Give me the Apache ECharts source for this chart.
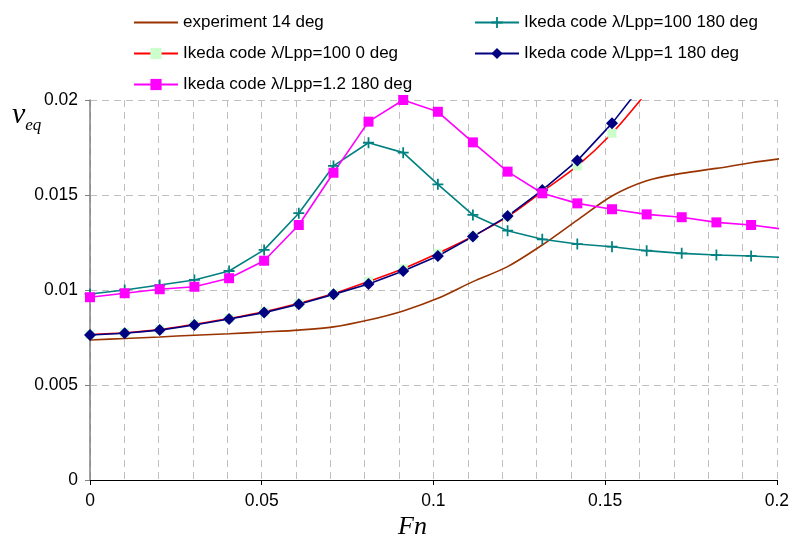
<!DOCTYPE html>
<html>
<head>
<meta charset="utf-8">
<script src="https://cdn.jsdelivr.net/npm/echarts@6/dist/echarts.min.js"></script>
<style>
  html, body { margin: 0; padding: 0; background: #ffffff; }
  #chart { width: 792px; height: 545px; }
</style>
</head>
<body>
<div id="chart"></div>
<script>
// Froude numbers at which the roll damping was evaluated
const fn = [0, 0.0101, 0.0203, 0.0304, 0.0405, 0.0507, 0.0608, 0.0709, 0.0811, 0.0912,
            0.1013, 0.1115, 0.1216, 0.1317, 0.1419, 0.1520, 0.1621, 0.1723, 0.1824, 0.1925, 0.2027];

// Equivalent linear roll damping coefficient
const experiment14 = [0.00737, 0.00745, 0.00753, 0.00762, 0.0077, 0.00779, 0.00789, 0.00806, 0.00842, 0.0089,
                      0.00956, 0.01044, 0.01123, 0.01237, 0.01368, 0.01495, 0.01575, 0.01614, 0.0164, 0.0167, 0.01695];
const ikeda100_180 = [0.00979, 0.0100, 0.01026, 0.01053, 0.0110, 0.01211, 0.01404, 0.01653, 0.01775, 0.01723,
                      0.01556, 0.01395, 0.01312, 0.01267, 0.01242, 0.01228, 0.01207, 0.01193, 0.01184, 0.01179, 0.01171];
const ikeda100_0 = [0.00765, 0.00775, 0.00792, 0.0082, 0.0085, 0.00885, 0.0093, 0.0098, 0.01045, 0.01112,
                    0.01193, 0.01283, 0.01386, 0.01518, 0.01653, 0.01825, 0.0204];
const ikeda1_180 = [0.00763, 0.00772, 0.00789, 0.00816, 0.00847, 0.00881, 0.00925, 0.00977, 0.01032, 0.0110,
                    0.01179, 0.01281, 0.01389, 0.01526, 0.01681, 0.01877, 0.0211];
const ikeda12_180 = [0.00962, 0.00983, 0.01004, 0.01017, 0.01062, 0.01154, 0.01342, 0.01617, 0.01886, 0.0200,
                     0.01938, 0.01777, 0.01623, 0.01509, 0.01456, 0.01425, 0.01398, 0.01383, 0.01356, 0.01342, 0.01318];

const xTicks = [0, 0.05, 0.1, 0.15, 0.2];
const yTicks = [0, 0.005, 0.01, 0.015, 0.02];

const names = [
  'experiment 14 deg',
  'Ikeda code λ/Lpp=100 180 deg',
  'Ikeda code λ/Lpp=100 0 deg',
  'Ikeda code λ/Lpp=1 180 deg',
  'Ikeda code λ/Lpp=1.2 180 deg'
];

function pairs(values) {
  return values.map((v, i) => [fn[i], v]);
}

const sans = 'Liberation Sans, Arial, sans-serif';
const serif = 'Liberation Serif, Times New Roman, serif';
const plusPath = 'path://M4.2,0H5.8V10H4.2ZM0,4.2H10V5.8H0Z';
const gridDash = { color: '#c0c0c0', width: 1, type: [7, 5] };
const legendText = { fontFamily: sans, fontSize: 17, color: '#000' };

const chart = echarts.init(document.getElementById('chart'));
chart.setOption({
  animation: false,
  backgroundColor: '#ffffff',
  grid: { left: 90, right: 12, top: 100, bottom: 65, containLabel: false },
  legend: [
    {
      data: [
        { name: names[0], itemStyle: { opacity: 0 } },
        names[2],
        names[4]
      ],
      orient: 'vertical', left: 128, top: 9,
      itemWidth: 44, itemHeight: 14, itemGap: 14,
      textStyle: legendText
    },
    {
      data: [names[1], names[3]],
      orient: 'vertical', left: 469, top: 9,
      itemWidth: 44, itemHeight: 14, itemGap: 14,
      textStyle: legendText
    }
  ],
  xAxis: {
    type: 'value', min: xTicks[0], max: xTicks[xTicks.length - 1], interval: 0.05,
    axisLine: { lineStyle: { color: '#000', width: 1 } },
    axisTick: { show: true, length: 5, lineStyle: { color: '#000' } },
    axisLabel: { fontFamily: sans, fontSize: 17.5, color: '#000', margin: 12 },
    splitLine: { show: true, lineStyle: gridDash },
    minorTick: { show: false, splitNumber: 5 },
    minorSplitLine: { show: true, lineStyle: gridDash }
  },
  yAxis: {
    type: 'value', min: yTicks[0], max: yTicks[yTicks.length - 1], interval: 0.005,
    axisLine: { show: true, lineStyle: { color: '#808080', width: 1.5 } },
    axisTick: { show: true, length: 5, lineStyle: { color: '#808080' } },
    axisLabel: { fontFamily: sans, fontSize: 17.5, color: '#000', margin: 12 },
    splitLine: { show: true, lineStyle: gridDash }
  },
  graphic: [
    {
      // y-axis title: equivalent roll damping
      type: 'text', left: 12, top: 100,
      style: {
        text: '{n|ν}{s|eq}',
        rich: {
          n: { fontFamily: serif, fontStyle: 'italic', fontSize: 30, fill: '#000' },
          s: { fontFamily: serif, fontStyle: 'italic', fontSize: 17, fill: '#000', padding: [22, 0, 0, 0] }
        }
      }
    },
    {
      // x-axis title: Froude number
      type: 'text', left: 398, top: 514,
      style: { text: 'Fn', fontFamily: serif, fontStyle: 'italic', fontSize: 26, fill: '#000' }
    }
  ],
  series: [
    {
      name: names[0], type: 'line', data: pairs(experiment14), smooth: 0.3,
      symbol: 'none', showSymbol: false, clip: true,
      lineStyle: { color: '#993300', width: 1.6 }, itemStyle: { color: '#993300' }
    },
    {
      name: names[1], type: 'line', data: pairs(ikeda100_180), clip: true,
      symbol: plusPath, symbolSize: 11,
      lineStyle: { color: '#008080', width: 1.6 }, itemStyle: { color: '#008080' }
    },
    {
      name: names[2], type: 'line', data: pairs(ikeda100_0), smooth: 0.3, clip: true,
      symbol: 'rect', symbolSize: 9,
      lineStyle: { color: '#ff0000', width: 1.6 }, itemStyle: { color: '#ccffcc' }
    },
    {
      name: names[3], type: 'line', data: pairs(ikeda1_180), clip: true,
      symbol: 'diamond', symbolSize: 12,
      lineStyle: { color: '#000080', width: 1.6 }, itemStyle: { color: '#000080' }
    },
    {
      name: names[4], type: 'line', data: pairs(ikeda12_180), clip: true,
      symbol: 'rect', symbolSize: 10,
      lineStyle: { color: '#ff00ff', width: 1.6 }, itemStyle: { color: '#ff00ff' }
    }
  ]
});
</script>
</body>
</html>
